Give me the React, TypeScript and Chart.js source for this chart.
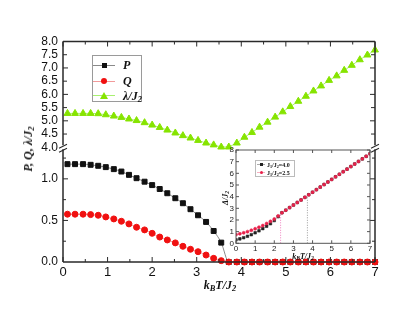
import React, { useEffect, useRef } from 'react';
import { Chart, registerables } from 'chart.js';

Chart.register(...registerables);

// ---------- main chart data ----------
const tempValues = [0.10, 0.27, 0.45, 0.62, 0.79, 0.96, 1.14, 1.31, 1.48, 1.65, 1.83, 2.00, 2.17, 2.34, 2.52, 2.69, 2.86, 3.03, 3.21, 3.38, 3.55, 3.72, 3.90, 4.07, 4.24, 4.41, 4.59, 4.76, 4.93, 5.10, 5.28, 5.45, 5.62, 5.79, 5.97, 6.14, 6.31, 6.48, 6.66, 6.83, 7.00];
const pValues = [1.177, 1.177, 1.177, 1.169, 1.157, 1.141, 1.117, 1.088, 1.048, 1.008, 0.966, 0.925, 0.878, 0.827, 0.767, 0.707, 0.635, 0.562, 0.482, 0.373, 0.233, 0, 0, 0, 0, 0, 0, 0, 0, 0, 0, 0, 0, 0, 0, 0, 0, 0, 0, 0, 0];
const qValues = [0.575, 0.575, 0.575, 0.570, 0.562, 0.542, 0.518, 0.490, 0.458, 0.418, 0.386, 0.345, 0.300, 0.265, 0.230, 0.189, 0.153, 0.124, 0.084, 0.044, 0.016, 0, 0, 0, 0, 0, 0, 0, 0, 0, 0, 0, 0, 0, 0, 0, 0, 0, 0, 0, 0];
const lambdaValues = [5.28, 5.28, 5.28, 5.28, 5.27, 5.23, 5.18, 5.13, 5.07, 5.01, 4.93, 4.84, 4.75, 4.65, 4.54, 4.44, 4.35, 4.26, 4.16, 4.09, 4.01, 4.01, 4.16, 4.38, 4.56, 4.76, 4.95, 5.14, 5.34, 5.54, 5.74, 5.93, 6.13, 6.32, 6.53, 6.70, 6.91, 7.10, 7.31, 7.49, 7.68];

const mainXMarks = [0, 0.5, 1, 1.5, 2, 2.5, 3, 3.5, 4, 4.5, 5, 5.5, 6, 6.5, 7];
const lowYMarks = [0.25, 0.5, 0.75, 1.0, 1.25];
const highYMarks = [4.5, 5.0, 5.5, 6.0, 6.5, 7.0, 7.5];
const mainLegendLabels = ['P', 'Q', 'λ/J'];

// ---------- inset data ----------
const insetTemp = [0, 0.2, 0.4, 0.6, 0.8, 1.0, 1.2, 1.4, 1.6, 1.8, 2.0, 2.2, 2.4, 2.6, 2.8, 3.0, 3.2, 3.4, 3.6, 3.8, 4.0, 4.2, 4.4, 4.6, 4.8, 5.0, 5.2, 5.4, 5.6, 5.8, 6.0, 6.2, 6.4, 6.6, 6.8, 7.0];
const gapJ25 = [0.75, 0.82, 0.90, 1.00, 1.12, 1.25, 1.38, 1.52, 1.70, 1.88, 2.08, 2.35, 2.62, 2.84, 3.06, 3.28, 3.50, 3.72, 3.94, 4.16, 4.38, 4.60, 4.82, 5.04, 5.26, 5.48, 5.70, 5.92, 6.14, 6.36, 6.58, 6.80, 7.02, 7.24, 7.46, 7.68];
const gapJ40 = [0.30, 0.38, 0.48, 0.60, 0.74, 0.90, 1.07, 1.26, 1.46, 1.68, 1.95, 2.28, 2.62, 2.84, 3.06, 3.28, 3.50, 3.72, 3.94, 4.16, 4.38, 4.60, 4.82, 5.04, 5.26, 5.48, 5.70, 5.92, 6.14, 6.36, 6.58, 6.80, 7.02, 7.24, 7.46, 7.68];
const critTemps = [2.33, 3.73];
const critTops = [2.57, 4.06];
const insetLegendLabels = ['4.0', '2.5'];

const GREEN = '#86e400';
const RED = '#f01010';

const mainFrame = {
  id: 'mainFrame',
  afterDatasetsDraw(chart: any) {
    const { ctx, chartArea: a, scales } = chart;
    const xs = scales.x, yl = scales.yLow, yh = scales.yHigh;
    const by = yh.getPixelForValue(4);
    ctx.save();
    ctx.strokeStyle = '#2a2a2a';
    ctx.lineWidth = 1.5;
    ctx.beginPath();
    ctx.moveTo(a.left, a.top); ctx.lineTo(a.right, a.top);
    ctx.moveTo(a.left, a.bottom); ctx.lineTo(a.right, a.bottom);
    for (const px of [a.left, a.right]) {
      ctx.moveTo(px, a.top); ctx.lineTo(px, by - 2);
      ctx.moveTo(px, by + 2); ctx.lineTo(px, a.bottom);
    }
    ctx.stroke();
    ctx.lineWidth = 1.1;
    ctx.beginPath();
    for (const px of [a.left, a.right]) {
      ctx.moveTo(px - 4, by + 1); ctx.lineTo(px + 4, by - 3);
      ctx.moveTo(px - 4, by + 5); ctx.lineTo(px + 4, by + 1);
    }
    ctx.stroke();
    ctx.lineWidth = 1;
    ctx.beginPath();
    for (const v of mainXMarks) {
      const px = xs.getPixelForValue(v);
      const len = Number.isInteger(v) ? 5 : 3;
      ctx.moveTo(px, a.bottom); ctx.lineTo(px, a.bottom - len);
      ctx.moveTo(px, a.top); ctx.lineTo(px, a.top + len);
    }
    for (const v of lowYMarks) {
      const py = yl.getPixelForValue(v);
      const len = Math.abs(v * 2 - Math.round(v * 2)) < 1e-6 ? 5 : 3;
      ctx.moveTo(a.left, py); ctx.lineTo(a.left + len, py);
      ctx.moveTo(a.right, py); ctx.lineTo(a.right - len, py);
    }
    for (const v of highYMarks) {
      const py = yh.getPixelForValue(v);
      const len = Number.isInteger(v) ? 5 : 4;
      ctx.moveTo(a.left, py); ctx.lineTo(a.left + len, py);
      ctx.moveTo(a.right, py); ctx.lineTo(a.right - len, py);
    }
    ctx.stroke();
    ctx.restore();
  },
};

const insetFrame = {
  id: 'insetFrame',
  beforeDatasetsDraw(chart: any) {
    const { ctx, chartArea: a } = chart;
    ctx.save();
    ctx.fillStyle = '#ffffff';
    ctx.fillRect(a.left, a.top, a.right - a.left, a.bottom - a.top);
    ctx.restore();
  },
  afterDatasetsDraw(chart: any) {
    const { ctx, chartArea: a, scales } = chart;
    ctx.save();
    ctx.strokeStyle = '#555';
    ctx.lineWidth = 1;
    ctx.strokeRect(a.left, a.top, a.right - a.left, a.bottom - a.top);
    ctx.beginPath();
    for (let v = 0; v <= 7; v += 1) {
      const px = scales.x.getPixelForValue(v);
      ctx.moveTo(px, a.bottom); ctx.lineTo(px, a.bottom - 3);
      ctx.moveTo(px, a.top); ctx.lineTo(px, a.top + 3);
    }
    for (let v = 0; v <= 8; v += 1) {
      const py = scales.y.getPixelForValue(v);
      ctx.moveTo(a.left, py); ctx.lineTo(a.left + 3, py);
      ctx.moveTo(a.right, py); ctx.lineTo(a.right - 3, py);
    }
    ctx.stroke();
    ctx.restore();
  },
};

function pts(xs: number[], ys: number[]) {
  return xs.map((x, i) => ({ x, y: ys[i] }));
}

const serif = "'Liberation Serif', 'DejaVu Serif', serif";
const sans = "'Liberation Sans', Arial, sans-serif";

export default function App() {
  const mainRef = useRef<HTMLCanvasElement>(null);
  const insetRef = useRef<HTMLCanvasElement>(null);

  useEffect(() => {
    const main = new Chart(mainRef.current as HTMLCanvasElement, {
      type: 'line',
      data: {
        datasets: [
          {
            label: 'Q',
            data: pts(tempValues, qValues),
            yAxisID: 'yLow',
            borderColor: '#f29a9a',
            borderWidth: 1,
            backgroundColor: RED,
            pointBackgroundColor: RED,
            pointBorderColor: RED,
            pointStyle: 'circle',
            pointRadius: 3,
            cubicInterpolationMode: 'monotone',
            clip: false,
          },
          {
            label: 'P',
            data: pts(tempValues, pValues),
            yAxisID: 'yLow',
            borderColor: '#8a8a8a',
            borderWidth: 1,
            backgroundColor: '#111',
            pointBackgroundColor: '#111',
            pointBorderColor: '#111',
            pointStyle: 'rect',
            pointRadius: 3.5,
            cubicInterpolationMode: 'monotone',
            clip: false,
          },
          {
            label: 'λ/J2',
            data: pts(tempValues, lambdaValues),
            yAxisID: 'yHigh',
            borderColor: '#a8f070',
            borderWidth: 1,
            backgroundColor: GREEN,
            pointBackgroundColor: GREEN,
            pointBorderColor: GREEN,
            pointStyle: 'triangle',
            pointRadius: 4,
            clip: false,
          },
        ] as any,
      },
      options: {
        responsive: false,
        animation: false,
        devicePixelRatio: 1,
        layout: { padding: { top: 41.5, right: 40, left: 0, bottom: 0 } },
        plugins: { legend: { display: false }, tooltip: { enabled: false } },
        scales: {
          x: {
            type: 'linear',
            min: 0,
            max: 7,
            grid: { display: false, drawTicks: false },
            border: { display: false },
            ticks: { stepSize: 1, autoSkip: false, padding: 3, color: '#111', font: { family: sans, size: 13 } },
            afterFit: (s: any) => { s.height = 49; },
          },
          yLow: {
            type: 'linear',
            position: 'left',
            stack: 'main',
            stackWeight: 115,
            min: 0,
            max: 1.38,
            grid: { display: false, drawTicks: false },
            border: { display: false },
            ticks: {
              stepSize: 0.5,
              autoSkip: false,
              includeBounds: false,
              padding: 5,
              color: '#111',
              font: { family: sans, size: 12 },
              callback: (v: any) => Number(v).toFixed(1),
            },
            afterFit: (s: any) => { s.width = 63; },
          },
          yHigh: {
            type: 'linear',
            position: 'left',
            stack: 'main',
            stackWeight: 106,
            min: 4,
            max: 8,
            grid: { display: false, drawTicks: false },
            border: { display: false },
            ticks: {
              stepSize: 0.5,
              autoSkip: false,
              padding: 5,
              color: '#111',
              font: { family: sans, size: 12 },
              callback: (v: any) => Number(v).toFixed(1),
            },
            afterFit: (s: any) => { s.width = 63; },
          },
        },
      } as any,
      plugins: [mainFrame],
    });

    const inset = new Chart(insetRef.current as HTMLCanvasElement, {
      type: 'line',
      data: {
        datasets: [
          {
            label: 'J1/J2=2.5',
            data: pts(insetTemp, gapJ25),
            borderColor: '#f7b0c0',
            borderWidth: 0.6,
            backgroundColor: '#e8204a',
            pointBackgroundColor: '#e8204a',
            pointBorderColor: '#e8204a',
            pointStyle: 'circle',
            pointRadius: 1.5,
          },
          {
            label: 'J1/J2=4.0',
            data: pts(insetTemp, gapJ40),
            borderColor: '#aaaaaa',
            borderWidth: 0.6,
            backgroundColor: '#222',
            pointBackgroundColor: '#222',
            pointBorderColor: '#222',
            pointStyle: 'rect',
            pointRadius: 1.8,
          },
          {
            label: 'crit 2.5',
            data: [{ x: critTemps[0], y: 0 }, { x: critTemps[0], y: critTops[0] }],
            borderColor: '#f080c0',
            borderWidth: 1,
            borderDash: [1, 1.5],
            pointRadius: 0,
          },
          {
            label: 'crit 4.0',
            data: [{ x: critTemps[1], y: 0 }, { x: critTemps[1], y: critTops[1] }],
            borderColor: '#9a9a9a',
            borderWidth: 1,
            borderDash: [1, 1.5],
            pointRadius: 0,
          },
        ] as any,
      },
      options: {
        responsive: false,
        animation: false,
        devicePixelRatio: 1,
        layout: { padding: { top: 10, right: 10, left: 0, bottom: 0 } },
        plugins: { legend: { display: false }, tooltip: { enabled: false } },
        scales: {
          x: {
            type: 'linear',
            min: 0,
            max: 7,
            grid: { display: false, drawTicks: false },
            border: { display: false },
            ticks: { stepSize: 1, autoSkip: false, padding: 1, color: '#222', font: { family: sans, size: 8 } },
            afterFit: (s: any) => { s.height = 21.7; },
          },
          y: {
            type: 'linear',
            min: 0,
            max: 8,
            grid: { display: false, drawTicks: false },
            border: { display: false },
            ticks: { stepSize: 1, autoSkip: false, padding: 2, color: '#222', font: { family: sans, size: 8 } },
            afterFit: (s: any) => { s.width = 36; },
          },
        },
      } as any,
      plugins: [insetFrame],
    });

    return () => {
      main.destroy();
      inset.destroy();
    };
  }, []);

  const abs = (left: number, top: number, extra: any = {}) => ({ position: 'absolute' as const, left, top, ...extra });
  const sub = { fontSize: '70%', verticalAlign: '-0.25em', lineHeight: 0 };

  const legendRows = [
    { y: 65, color: '#8a8a8a', marker: 'rect' },
    { y: 81, color: '#f29a9a', marker: 'circle' },
    { y: 95.5, color: '#a8f070', marker: 'triangle' },
  ];

  const markerEl = (m: string, cx: number, cy: number) => {
    if (m === 'rect') return <div style={abs(cx - 2.5, cy - 2.5, { width: 5, height: 5, background: '#111' })} />;
    if (m === 'circle') return <div style={abs(cx - 3, cy - 3, { width: 6, height: 6, borderRadius: '50%', background: RED })} />;
    return <div style={abs(cx - 4, cy - 4, { width: 0, height: 0, borderLeft: '4px solid transparent', borderRight: '4px solid transparent', borderBottom: `7px solid ${GREEN}` })} />;
  };

  return (
    <div style={{ position: 'absolute', left: 0, top: 0, width: 415, height: 311, background: '#fff', overflow: 'hidden' }}>
      <canvas ref={mainRef} width={415} height={311} style={abs(0, 0)} />
      <canvas ref={insetRef} width={180} height={125} style={abs(200, 140)} />

      {/* main y title */}
      <div style={abs(28, 149, { transform: 'translate(-50%, -50%) rotate(-90deg)', whiteSpace: 'nowrap', font: `italic bold 12px ${serif}`, color: '#111', lineHeight: 1 })}>
        P, Q, λ/J<span style={sub}>2</span>
      </div>
      {/* main x title */}
      <div style={abs(220, 285, { transform: 'translate(-50%, -50%)', whiteSpace: 'nowrap', font: `italic bold 12px ${serif}`, color: '#111', lineHeight: 1 })}>
        k<span style={sub}>B</span>T/J<span style={sub}>2</span>
      </div>

      {/* main legend */}
      <div style={abs(92, 55, { width: 50, height: 47, border: '1px solid #9a9a9a', boxSizing: 'border-box' })} />
      {legendRows.map((r, i) => (
        <React.Fragment key={i}>
          <div style={abs(93, r.y - 0.5, { width: 22, height: 1, background: r.color })} />
          {markerEl(r.marker, 104, r.y)}
          <div style={abs(123, r.y, { transform: 'translateY(-50%)', whiteSpace: 'nowrap', font: `italic bold 12px ${serif}`, color: '#111', lineHeight: 1 })}>
            {mainLegendLabels[i]}{i === 2 ? <span style={sub}>2</span> : null}
          </div>
        </React.Fragment>
      ))}

      {/* inset titles */}
      <div style={abs(303, 257, { transform: 'translate(-50%, -50%)', whiteSpace: 'nowrap', font: `italic bold 8px ${serif}`, color: '#111', lineHeight: 1 })}>
        k<span style={sub}>B</span>T/J<span style={sub}>2</span>
      </div>
      <div style={abs(226, 198, { transform: 'translate(-50%, -50%) rotate(-90deg)', whiteSpace: 'nowrap', font: `italic bold 8px ${serif}`, color: '#111', lineHeight: 1 })}>
        Δ/J<span style={sub}>2</span>
      </div>

      {/* inset legend */}
      <div style={abs(255, 160, { width: 40, height: 17, border: '1px solid #bbb', boxSizing: 'border-box', background: '#fff' })} />
      {[{ y: 164.5, c: '#222', m: 'rect' }, { y: 172.5, c: '#e8204a', m: 'circle' }].map((r, i) => (
        <React.Fragment key={i}>
          <div style={abs(257, r.y - 0.3, { width: 8, height: 0.6, background: r.c === '#222' ? '#aaa' : '#f7b0c0' })} />
          <div style={abs(259.5, r.y - 1.5, { width: 3, height: 3, background: r.c, borderRadius: r.m === 'circle' ? '50%' : 0 })} />
          <div style={abs(267, r.y, { transform: 'translateY(-50%)', whiteSpace: 'nowrap', font: `bold 6px ${serif}`, color: '#111', lineHeight: 1 })}>
            J<span style={sub}>1</span>/J<span style={sub}>2</span>={insetLegendLabels[i]}
          </div>
        </React.Fragment>
      ))}
    </div>
  );
}
